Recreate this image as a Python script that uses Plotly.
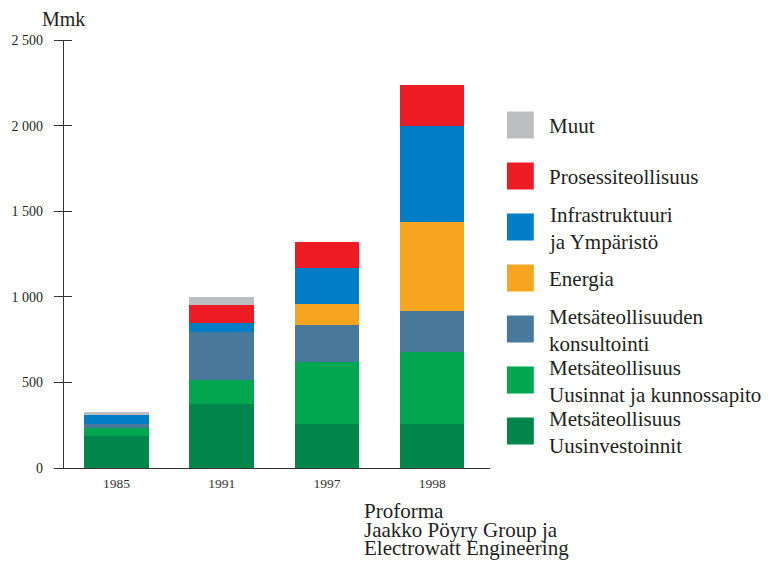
import plotly.graph_objects as go

years = ["1985", "1991", "1997", "1998"]

series_names = [
    "Metsäteollisuus<br>Uusinvestoinnit",
    "Metsäteollisuus<br>Uusinnat ja kunnossapito",
    "Metsäteollisuuden<br>konsultointi",
    "Energia",
    "Infrastruktuuri<br>ja Ympäristö",
    "Prosessiteollisuus",
    "Muut",
]
uusinvestoinnit = [188, 373, 258, 258]
uusinnat = [47, 142, 362, 420]
konsultointi = [22, 278, 214, 239]
energia = [0, 0, 123, 522]
infrastruktuuri = [52, 53, 212, 558]
prosessi = [0, 105, 150, 243]
muut = [18, 47, 0, 0]
series_values = [uusinvestoinnit, uusinnat, konsultointi, energia,
                 infrastruktuuri, prosessi, muut]
colors = ["#00854A", "#00A650", "#48789A", "#F7A51E",
          "#007DC5", "#ED1C24", "#BCBEC0"]

ytick_vals = [0, 500, 1000, 1500, 2000, 2500]
ytick_text = ["0", "500", "1 000", "1 500", "2 000", "2 500"]

footnote = ["Proforma", "Jaakko Pöyry Group ja", "Electrowatt Engineering"]

FONT = "Liberation Serif"
TXT = "#231F20"

W, H = 780, 571
PW, PH = 428, 428
L, T = 62, 40
R, B = W - L - PW, H - T - PH


def px_x(x):
    return (x - L) / PW


def px_y(y):
    return (T + PH - y) / PH


fig = go.Figure()
for name, vals, col in zip(series_names, series_values, colors):
    fig.add_trace(go.Bar(x=years, y=vals, name=name, marker_color=col,
                         marker_line_width=0, width=0.615, showlegend=False,
                         hoverinfo="skip"))

fig.update_layout(
    barmode="stack",
    width=W, height=H,
    margin=dict(l=L, r=R, t=T, b=B, pad=0),
    paper_bgcolor="white", plot_bgcolor="white",
    font=dict(family=FONT, color=TXT),
    xaxis=dict(type="category", range=[-0.5, 3.55], showline=True,
               linecolor="#333333", linewidth=1.3, ticks="",
               showgrid=False, tickfont=dict(size=13.5, color="#333333"),
               ticklabelstandoff=3),
    yaxis=dict(range=[0, 2500], tickvals=ytick_vals, ticktext=ytick_text,
               showline=True, linecolor="#333333", linewidth=1.3,
               ticks="outside", ticklen=9, tickwidth=1.3, tickcolor="#333333",
               showgrid=False, zeroline=False,
               tickfont=dict(size=14, color=TXT), ticklabelstandoff=8,
               minor=dict(tickvals=ytick_vals, ticks="inside", ticklen=8,
                          tickwidth=1.3, tickcolor="#333333", showgrid=False)),
)

# Unit label
fig.add_annotation(text="Mmk", xref="paper", yref="paper",
                   x=px_x(61), y=px_y(19), xanchor="center", yanchor="middle",
                   showarrow=False, font=dict(size=20, color=TXT))

# Custom legend (top to bottom: reverse stacking order)
leg_x0 = 507
sw = 27
leg_y0 = 125
leg_step = 51
for i, (name, col) in enumerate(zip(series_names[::-1], colors[::-1])):
    cy = leg_y0 + i * leg_step
    fig.add_shape(type="rect", xref="paper", yref="paper",
                  x0=px_x(leg_x0), x1=px_x(leg_x0 + sw),
                  y0=px_y(cy + sw / 2), y1=px_y(cy - sw / 2),
                  fillcolor=col, line_width=0)
    fig.add_annotation(text=name, xref="paper", yref="paper",
                       x=px_x(547), y=px_y(cy + 1), xanchor="left",
                       yanchor="middle", align="left", showarrow=False,
                       font=dict(size=21, color=TXT))

# Footnote
for j, line in enumerate(footnote):
    fig.add_annotation(text=line, xref="paper", yref="paper",
                       x=px_x(363), y=px_y(511 + j * 18.5), xanchor="left",
                       yanchor="middle", align="left", showarrow=False,
                       borderpad=0, borderwidth=0,
                       font=dict(size=21, color=TXT))

fig.write_html("out.html",
               config={"displayModeBar": False},
               post_script="document.body.style.margin='0px';")
